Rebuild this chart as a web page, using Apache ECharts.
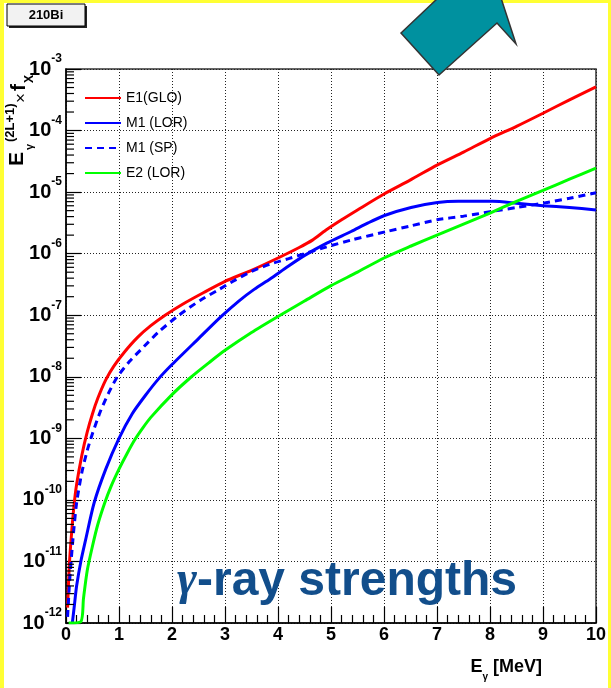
<!DOCTYPE html>
<html>
<head>
<meta charset="utf-8">
<script src="https://cdn.jsdelivr.net/npm/echarts@6/dist/echarts.min.js"></script>
<style>
  html, body { margin: 0; padding: 0; background: #ffffff; }
  #chart { width: 611px; height: 688px; }
</style>
</head>
<body>
<div id="chart"></div>
<script>
// Photon strength functions of 210Bi, E_gamma in MeV
const energyE1 = [0.03, 0.06, 0.10, 0.15, 0.20, 0.30, 0.40, 0.50, 0.60, 0.75, 0.90, 1.10, 1.35, 1.60, 1.87, 2.20, 2.60, 3.00, 3.50, 4.00, 4.40, 4.65, 4.90, 5.20, 5.50, 6.00, 6.50, 7.00, 7.50, 8.00, 8.50, 9.00, 9.50, 10.0];
const strengthE1 = [1.78e-12, 7.94e-12, 2.51e-11, 7.94e-11, 1.78e-10, 5.37e-10, 1.26e-9, 2.51e-9, 4.47e-9, 8.91e-9, 1.48e-8, 2.51e-8, 4.37e-8, 6.76e-8, 1.0e-7, 1.51e-7, 2.34e-7, 3.55e-7, 5.37e-7, 8.51e-7, 1.26e-6, 1.66e-6, 2.40e-6, 3.55e-6, 5.13e-6, 9.33e-6, 1.58e-5, 2.75e-5, 4.47e-5, 7.41e-5, 1.17e-4, 1.91e-4, 3.16e-4, 5.13e-4];

const energyM1Lor = [0.12, 0.16, 0.20, 0.28, 0.37, 0.53, 0.75, 1.00, 1.25, 1.50, 1.75, 2.00, 2.50, 2.93, 3.26, 3.55, 3.85, 4.20, 4.52, 4.92, 5.38, 5.70, 6.01, 6.51, 7.01, 7.40, 8.05, 8.50, 9.00, 9.50, 10.0];
const strengthM1Lor = [1.0e-12, 2.0e-12, 3.98e-12, 1.0e-11, 2.24e-11, 8.91e-11, 3.16e-10, 1.0e-9, 2.51e-9, 5.01e-9, 9.33e-9, 1.58e-8, 4.17e-8, 9.55e-8, 1.70e-7, 2.63e-7, 3.89e-7, 6.31e-7, 9.55e-7, 1.48e-6, 2.29e-6, 3.16e-6, 4.17e-6, 5.62e-6, 6.76e-6, 7.08e-6, 7.08e-6, 6.61e-6, 6.03e-6, 5.62e-6, 5.13e-6];

const energyM1Sp = [0.03, 0.07, 0.13, 0.20, 0.30, 0.40, 0.50, 0.65, 0.80, 0.97, 1.20, 1.47, 1.75, 2.13, 2.53, 2.85, 3.19, 3.50, 3.85, 4.20, 4.50, 4.92, 5.38, 6.05, 6.50, 7.00, 7.50, 8.00, 8.50, 9.00, 9.50, 10.0];
const strengthM1Sp = [1.26e-12, 5.01e-12, 2.24e-11, 8.91e-11, 2.82e-10, 6.31e-10, 1.20e-9, 2.75e-9, 5.37e-9, 1.0e-8, 1.78e-8, 3.09e-8, 5.37e-8, 1.0e-7, 1.74e-7, 2.51e-7, 3.72e-7, 5.13e-7, 6.76e-7, 8.32e-7, 1.0e-6, 1.29e-6, 1.66e-6, 2.29e-6, 2.82e-6, 3.55e-6, 4.07e-6, 4.79e-6, 5.62e-6, 6.61e-6, 7.94e-6, 9.77e-6];

const energyE2 = [0.05, 0.28, 0.33, 0.40, 0.50, 0.60, 0.73, 0.85, 1.00, 1.15, 1.30, 1.45, 1.60, 2.00, 2.34, 2.70, 3.00, 3.50, 4.00, 4.50, 5.00, 5.50, 6.00, 6.50, 7.00, 7.50, 8.00, 8.50, 9.00, 9.50, 10.0];
const strengthE2 = [1.0e-12, 1.05e-12, 2.51e-12, 7.08e-12, 1.78e-11, 3.98e-11, 8.91e-11, 1.66e-10, 3.16e-10, 5.62e-10, 9.55e-10, 1.48e-9, 2.19e-9, 5.13e-9, 9.55e-9, 1.70e-8, 2.69e-8, 5.25e-8, 9.55e-8, 1.70e-7, 3.02e-7, 5.01e-7, 8.51e-7, 1.32e-6, 2.0e-6, 3.02e-6, 4.57e-6, 7.08e-6, 1.07e-5, 1.62e-5, 2.45e-5];

const seriesNames = ['E1(GLO)', 'M1 (LOR)', 'M1 (SP)', 'E2 (LOR)'];

const FONT = '"Liberation Sans", Arial, Helvetica, sans-serif';

function pairs(xs, ys) { return xs.map((x, i) => [x, ys[i]]); }

// log-axis minor tick positions: 2..9 x 10^n inside every decade
const minorTickValues = [];
for (let n = -12; n < -3; n++) {
  for (let k = 2; k <= 9; k++) minorTickValues.push([0, k * Math.pow(10, n)]);
}

const chart = echarts.init(document.getElementById('chart'), null, { renderer: 'canvas' });

function curve(name, xs, ys, color, dashed) {
  return {
    name: name,
    type: 'line',
    data: pairs(xs, ys),
    smooth: 0.25,
    showSymbol: false,
    symbol: 'none',
    lineStyle: { color: color, width: 3, type: dashed ? [7, 5] : 'solid' },
    itemStyle: { color: color },
    z: 3
  };
}

const option = {
  backgroundColor: '#ffffff',
  animation: false,
  grid: {
    left: 66, right: 15, top: 69, bottom: 65,
    show: true, borderColor: '#333', borderWidth: 1.5, backgroundColor: 'transparent'
  },
  legend: {
    orient: 'vertical',
    left: 79, top: 86,
    itemWidth: 36, itemHeight: 14, itemGap: 11,
    data: seriesNames,
    itemStyle: { opacity: 0 },
    textStyle: { fontFamily: FONT, fontSize: 14, color: '#000' }
  },
  xAxis: {
    type: 'value', min: 0, max: 10, interval: 1,
    axisLine: { show: true, onZero: false, lineStyle: { color: '#000', width: 1.5 } },
    axisTick: { show: true, inside: true, length: 16, lineStyle: { color: '#000', width: 1.2 } },
    minorTick: { show: true, splitNumber: 5, length: 8, lineStyle: { color: '#000', width: 1.2 } },
    splitLine: { show: true, lineStyle: { color: '#222', width: 1, type: [1, 2] } },
    axisLabel: {
      margin: 3, color: '#000', fontFamily: FONT, fontSize: 18, fontWeight: 'bold',
      showMinLabel: true, showMaxLabel: true
    }
  },
  yAxis: {
    type: 'log', logBase: 10, min: 1e-12, max: 1e-3, splitNumber: 9,
    axisLine: { show: true, onZero: false, lineStyle: { color: '#000', width: 1.5 } },
    axisTick: { show: true, inside: true, length: 15, lineStyle: { color: '#000', width: 1.2 } },
    splitLine: { show: true, lineStyle: { color: '#222', width: 1, type: [1, 2] } },
    axisLabel: {
      margin: 4,
      showMinLabel: true, showMaxLabel: true,
      formatter: v => '{b|10}{s|' + Math.round(Math.log10(v)) + '}',
      rich: {
        b: { fontFamily: FONT, fontSize: 20, fontWeight: 'bold', color: '#000', padding: [6, 0, 6, 0], verticalAlign: 'bottom' },
        s: { fontFamily: FONT, fontSize: 12, fontWeight: 'bold', color: '#000', verticalAlign: 'top' }
      }
    }
  },
  series: [
    curve(seriesNames[0], energyE1, strengthE1, '#ff0000', false),
    curve(seriesNames[1], energyM1Lor, strengthM1Lor, '#0000ff', false),
    curve(seriesNames[2], energyM1Sp, strengthM1Sp, '#0000ff', true),
    curve(seriesNames[3], energyE2, strengthE2, '#00ff00', false),
    {
      // minor ticks of the logarithmic axis
      type: 'custom',
      coordinateSystem: 'cartesian2d',
      silent: true,
      clip: false,
      z: 4,
      data: minorTickValues,
      renderItem: (params, api) => {
        const p = api.coord([0, api.value(1)]);
        return {
          type: 'line',
          shape: { x1: p[0], y1: p[1], x2: p[0] + 8, y2: p[1] },
          style: { stroke: '#000', lineWidth: 1.2 }
        };
      }
    }
  ],
  graphic: [
    // page frame
    { type: 'rect', left: 0, top: 0, shape: { width: 4, height: 688 }, style: { fill: '#ffff33' }, z: 100 },
    { type: 'rect', left: 0, top: 0, shape: { width: 611, height: 3 }, style: { fill: '#ffff33' }, z: 100 },
    { type: 'rect', left: 608, top: 0, shape: { width: 3, height: 688 }, style: { fill: '#ffff33' }, z: 100 },
    // nucleus tag
    { type: 'rect', x: 9, y: 6, shape: { width: 78, height: 22 }, style: { fill: '#222' }, z: 100 },
    { type: 'rect', x: 7, y: 4, shape: { width: 78, height: 22 }, style: { fill: '#f2f2f2', stroke: '#000', lineWidth: 1 }, z: 101 },
    { type: 'text', x: 46, y: 15, z: 102,
      style: { text: '210Bi', font: 'bold 13px ' + FONT, fill: '#000', align: 'center', verticalAlign: 'middle' } },
    // arrow
    { type: 'polygon', z: 110,
      shape: { points: [[438, -2], [401, 33], [439, 75], [497, 23], [516, 44], [501, -2]] },
      style: { fill: '#00919f', stroke: '#333', lineWidth: 1.5 } },
    // y axis title (rotated)
    { type: 'group', x: 24, y: 166, rotation: Math.PI / 2, z: 90,
      children: [
        { type: 'text', x: 0, y: -7, style: { text: 'E', font: 'bold 21px ' + FONT, fill: '#000', verticalAlign: 'middle' } },
        { type: 'text', x: 16, y: 6, style: { text: 'γ', font: 'bold 11px ' + FONT, fill: '#000', verticalAlign: 'middle' } },
        { type: 'text', x: 24, y: -14, style: { text: '(2L+1)', font: 'bold 13px ' + FONT, fill: '#000', verticalAlign: 'middle' } },
        { type: 'text', x: 63, y: -3, style: { text: '×', font: '17px ' + FONT, fill: '#000', verticalAlign: 'middle' } },
        { type: 'text', x: 75, y: -5, style: { text: 'f', font: 'bold 21px ' + FONT, fill: '#000', verticalAlign: 'middle' } },
        { type: 'text', x: 83, y: 6, style: { text: 'X', font: 'bold 12px ' + FONT, fill: '#000', verticalAlign: 'middle' } }
      ] },
    // x axis title
    { type: 'text', x: 542, y: 670, z: 90,
      style: {
        text: '{e|E}{g|γ}{m| [MeV]}', align: 'right', verticalAlign: 'middle',
        rich: {
          e: { font: 'bold 18px ' + FONT, fill: '#000', padding: [0, 0, 6, 0] },
          g: { font: 'bold 10px ' + FONT, fill: '#000', verticalAlign: 'bottom' },
          m: { font: 'bold 18px ' + FONT, fill: '#000', padding: [0, 0, 6, 0] }
        }
      } },
    // caption inside the plot
    { type: 'text', x: 177, y: 582, z: 90,
      style: {
        text: '{g|γ}{t|-ray strengths}', verticalAlign: 'middle',
        rich: {
          g: { font: 'italic bold 48px "Liberation Serif", "DejaVu Serif", serif', fill: '#124e8b' },
          t: { font: 'bold 48px ' + FONT, fill: '#124e8b' }
        }
      } }
  ]
};

chart.setOption(option);
</script>
</body>
</html>
